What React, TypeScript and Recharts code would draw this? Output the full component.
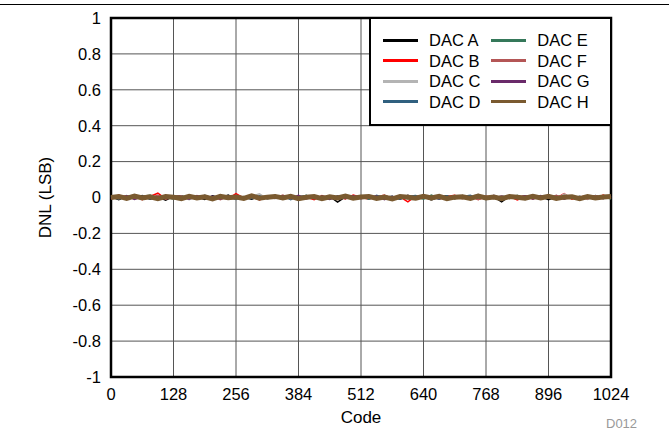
import React from 'react';
import {
  LineChart,
  Line,
  XAxis,
  YAxis,
  CartesianGrid,
  ReferenceArea,
} from 'recharts';

// input codes sampled along the transfer function
const codes = [
  0, 16, 32, 48, 64, 80, 96, 112, 128, 144, 160, 176, 192,
  208, 224, 240, 256, 272, 288, 304, 320, 336, 352, 368, 384, 400,
  416, 432, 448, 464, 480, 496, 512, 528, 544, 560, 576, 592, 608,
  624, 640, 656, 672, 688, 704, 720, 736, 752, 768, 784, 800, 816,
  832, 848, 864, 880, 896, 912, 928, 944, 960, 976, 992, 1008, 1024,
];

const dacA = [
  0.004, -0.012, 0.008, -0.003, 0.011, -0.009, 0.002, -0.015, 0.006, 0.010, -0.007, 0.003, -0.011,
  0.009, -0.002, 0.013, -0.006, 0.001, -0.010, 0.007, -0.004, 0.012, -0.008, 0.005, -0.013, 0.003,
  0.009, -0.005, 0.006, -0.026, 0.004, 0.010, -0.003, 0.008, -0.011, 0.002, 0.007, -0.009, 0.012,
  -0.004, 0.005, -0.014, 0.003, 0.009, -0.006, 0.011, -0.002, 0.006, -0.010, 0.004, -0.024, 0.008,
  -0.003, 0.010, -0.007, 0.005, -0.012, 0.002, 0.009, -0.005, 0.007, -0.008, 0.011, -0.004, 0.003,
];
const dacB = [
  -0.008, 0.014, -0.004, 0.009, -0.012, 0.006, 0.024, -0.007, 0.003, -0.011, 0.012, -0.002, 0.008,
  -0.010, 0.005, -0.006, 0.022, -0.003, 0.010, -0.013, 0.004, 0.008, -0.009, 0.013, -0.005, 0.002,
  -0.012, 0.011, -0.004, 0.007, -0.008, 0.014, 0.001, -0.010, 0.006, 0.012, -0.007, 0.004, -0.024,
  0.009, -0.003, 0.011, -0.009, 0.005, 0.013, -0.006, 0.008, -0.011, 0.003, 0.010, -0.005, 0.007,
  -0.013, 0.004, 0.012, -0.008, 0.006, -0.004, 0.022, -0.010, 0.003, 0.009, -0.006, 0.013, -0.002,
];
const dacC = [
  0.010, -0.005, 0.003, 0.012, -0.008, 0.004, -0.010, 0.009, -0.003, 0.007, -0.012, 0.005, 0.011,
  -0.006, 0.002, -0.009, 0.010, -0.004, 0.006, 0.020, -0.007, 0.003, -0.011, 0.008, 0.004, -0.006,
  0.010, -0.002, -0.009, 0.005, 0.012, -0.005, 0.007, -0.010, 0.003, 0.009, -0.004, 0.011, -0.007,
  0.002, 0.008, -0.012, 0.006, -0.003, 0.010, -0.008, 0.004, 0.018, -0.006, 0.005, -0.010, 0.009,
  0.003, -0.007, 0.011, -0.004, 0.006, -0.009, 0.020, -0.003, 0.005, -0.011, 0.008, -0.005, 0.010,
];
const dacD = [
  -0.003, 0.009, -0.010, 0.005, 0.002, -0.008, 0.011, -0.005, 0.007, -0.002, 0.004, -0.009, 0.012,
  -0.004, 0.008, 0.003, -0.011, 0.006, -0.005, 0.010, -0.007, 0.002, 0.009, -0.012, 0.006, 0.011,
  -0.003, 0.004, -0.008, 0.010, -0.006, 0.003, 0.008, -0.010, 0.012, -0.002, 0.005, -0.009, 0.007,
  0.011, -0.005, 0.003, -0.010, 0.009, -0.004, 0.006, 0.012, -0.008, 0.002, -0.006, 0.010, -0.003,
  0.007, -0.011, 0.005, 0.009, -0.004, 0.011, -0.007, 0.003, -0.009, 0.006, 0.010, -0.005, 0.004,
];
const dacE = [
  0.006, -0.009, 0.011, -0.002, 0.007, 0.013, -0.006, 0.004, -0.010, 0.008, 0.002, -0.007, 0.010,
  -0.004, 0.012, -0.009, 0.005, -0.002, 0.009, -0.011, 0.006, 0.010, -0.005, 0.003, -0.008, 0.012,
  -0.006, 0.008, 0.002, -0.010, 0.005, -0.004, 0.011, -0.008, 0.007, 0.003, -0.012, 0.009, -0.005,
  0.006, -0.009, 0.013, -0.002, 0.005, -0.007, 0.010, -0.004, 0.008, -0.011, 0.006, 0.003, -0.006,
  0.012, -0.008, 0.004, -0.003, 0.010, -0.007, 0.008, 0.002, -0.010, 0.011, -0.004, 0.006, -0.008,
];
const dacF = [
  -0.006, 0.005, 0.010, -0.008, 0.003, -0.004, 0.012, -0.009, 0.006, 0.009, -0.005, 0.011, -0.003,
  0.004, -0.012, 0.007, 0.002, -0.006, 0.011, -0.008, 0.005, -0.003, 0.013, -0.007, 0.009, -0.004,
  0.006, -0.011, 0.008, 0.003, -0.007, 0.010, -0.002, 0.005, -0.009, 0.012, -0.006, 0.003, 0.009,
  -0.010, 0.007, -0.004, 0.004, -0.008, 0.011, -0.003, 0.006, -0.012, 0.009, -0.002, 0.008, -0.006,
  0.004, 0.010, -0.009, 0.006, -0.003, 0.012, -0.005, 0.007, 0.002, -0.008, 0.009, -0.004, 0.005,
];
const dacG = [
  0.002, -0.007, 0.009, -0.011, 0.005, 0.008, -0.004, 0.012, -0.006, 0.003, -0.009, 0.010, -0.002,
  0.007, -0.008, 0.004, 0.011, -0.005, 0.006, -0.010, 0.003, -0.006, 0.009, -0.003, 0.012, -0.008,
  0.005, 0.002, -0.011, 0.007, -0.004, 0.010, -0.007, 0.004, 0.008, -0.012, 0.006, -0.002, 0.011,
  -0.006, 0.003, -0.009, 0.010, -0.004, 0.007, 0.002, -0.010, 0.006, -0.005, 0.012, -0.007, 0.004,
  -0.003, 0.009, -0.008, 0.011, -0.002, 0.005, -0.010, 0.008, -0.004, 0.006, 0.003, -0.007, 0.009,
];
const dacH = [
  0.000, 0.006, -0.005, 0.008, -0.003, 0.004, -0.007, 0.005, 0.002, -0.006, 0.007, -0.002, 0.004,
  -0.008, 0.006, -0.001, 0.003, -0.005, 0.009, -0.004, 0.002, 0.006, -0.003, 0.007, -0.006, 0.001,
  0.005, -0.007, 0.004, -0.002, 0.008, -0.004, 0.003, 0.006, -0.005, 0.002, -0.008, 0.005, 0.001,
  -0.004, 0.007, -0.003, 0.006, -0.006, 0.002, 0.004, -0.005, 0.008, -0.002, 0.003, -0.007, 0.005,
  0.001, -0.004, 0.006, -0.003, 0.007, -0.005, 0.002, 0.004, -0.006, 0.005, -0.002, 0.003, 0.006,
];

const xTicks = [0, 128, 256, 384, 512, 640, 768, 896, 1024];
const yTicks = [-1, -0.8, -0.6, -0.4, -0.2, 0, 0.2, 0.4, 0.6, 0.8, 1];

const series = [
  { key: 'DAC A', values: dacA, color: '#000000', width: 1.5 },
  { key: 'DAC B', values: dacB, color: '#ff0000', width: 1.5 },
  { key: 'DAC C', values: dacC, color: '#b4b4b4', width: 1.5 },
  { key: 'DAC D', values: dacD, color: '#30607f', width: 1.5 },
  { key: 'DAC E', values: dacE, color: '#35785a', width: 1.5 },
  { key: 'DAC F', values: dacF, color: '#b45656', width: 1.5 },
  { key: 'DAC G', values: dacG, color: '#6a2a6a', width: 1.5 },
  { key: 'DAC H', values: dacH, color: '#7a5a30', width: 5 },
];

const rows = codes.map((code, i) => {
  const row: Record<string, number | null> = { code };
  series.forEach((s) => {
    row[s.key] = s.values[i] ?? null;
  });
  return row;
});

const FONT = '"Liberation Sans", Arial, sans-serif';
const TICK = { fontSize: 16.5, fill: '#000', fontFamily: FONT };

const fmt = (v: number) => String(Number(v.toFixed(1)));

// two column legend in a framed box, drawn over the grid like the datasheet plot
const LegendBox = () => {
  const col = (items: typeof series) => (
    <div style={{ display: 'flex', flexDirection: 'column' }}>
      {items.map((s) => (
        <div key={s.key} style={{ display: 'flex', alignItems: 'center', height: 20.5 }}>
          <span style={{ display: 'inline-block', width: 35, height: 3, background: s.color, marginRight: 11 }} />
          <span style={{ fontSize: 16.5, color: '#000', lineHeight: '20px' }}>{s.key}</span>
        </div>
      ))}
    </div>
  );
  return (
    <div
      style={{
        position: 'absolute',
        left: 369,
        top: 17,
        boxSizing: 'border-box',
        width: 243,
        height: 109,
        border: '2px solid #000',
        background: '#fff',
        padding: '11px 0 0 12px',
        display: 'flex',
        gap: 11,
        fontFamily: FONT,
      }}
    >
      {col(series.slice(0, 4))}
      {col(series.slice(4))}
    </div>
  );
};

export default function App() {
  return (
    <div style={{ position: 'absolute', left: 0, top: 0, width: 669, height: 434, background: '#fff', fontFamily: FONT }}>
      <div style={{ position: 'absolute', left: 0, top: 4, width: 669, height: 0, borderTop: '1.5px solid #000' }} />
      <LineChart
        width={669}
        height={434}
        data={rows}
        margin={{ top: 18, right: 58, left: 20, bottom: 0 }}
        style={{ position: 'absolute', left: 0, top: 0 }}
      >
        <CartesianGrid stroke="#555" strokeWidth={1} horizontalValues={yTicks} verticalValues={xTicks} />
        <XAxis
          dataKey="code"
          type="number"
          domain={[0, 1024]}
          ticks={xTicks}
          interval={0}
          height={57}
          axisLine={false}
          tickLine={false}
          tickSize={0}
          tickMargin={11}
          tick={TICK}
          label={{ value: 'Code', position: 'insideBottom', offset: 11, fontSize: 17, fill: '#000', fontFamily: FONT }}
        />
        <YAxis
          type="number"
          domain={[-1, 1]}
          ticks={yTicks}
          interval={0}
          width={91}
          axisLine={false}
          tickLine={false}
          tickSize={0}
          tickMargin={10}
          tickFormatter={fmt}
          tick={TICK}
          label={{ value: 'DNL (LSB)', angle: -90, position: 'insideLeft', offset: 25, fontSize: 17, fill: '#000', fontFamily: FONT, style: { textAnchor: 'middle' } }}
        />
        {series.map((s) => (
          <Line
            key={s.key}
            type="linear"
            dataKey={s.key}
            stroke={s.color}
            strokeWidth={s.width}
            dot={false}
            isAnimationActive={false}
          />
        ))}
        <ReferenceArea x1={0} x2={1024} y1={-1} y2={1} fill="none" stroke="#000" strokeWidth={2.5} ifOverflow="visible" />
      </LineChart>
      <LegendBox />
      <div style={{ position: 'absolute', left: 606, top: 416, fontSize: 13, color: '#999', fontFamily: FONT }}>D012</div>
    </div>
  );
}
